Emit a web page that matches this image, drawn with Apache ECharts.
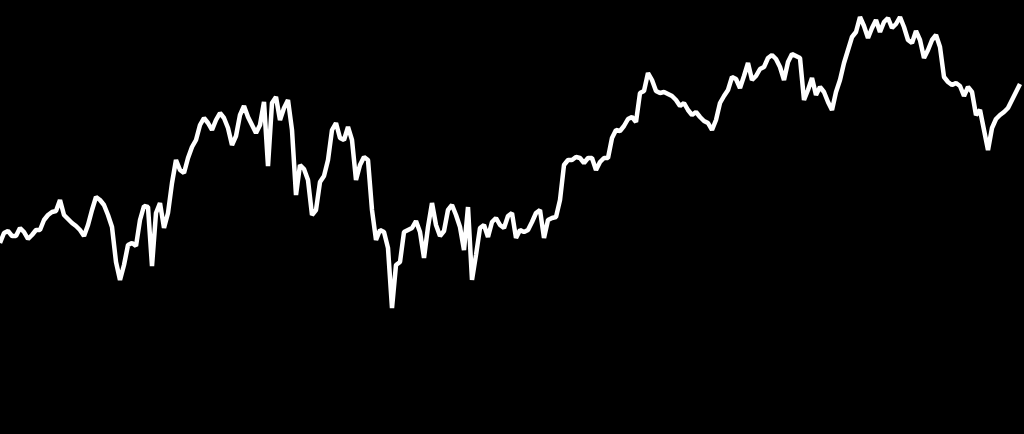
<!DOCTYPE html>
<html>
<head>
<meta charset="utf-8">
<script src="https://cdn.jsdelivr.net/npm/echarts@6/dist/echarts.min.js"></script>
<style>
html,body{margin:0;padding:0;background:#000;}
#chart{width:1024px;height:434px;}
</style>
</head>
<body>
<div id="chart"></div>
<script>
const values = [
191,201,203,198,198,206,202,195,199,204,204,214,219,222,223,234,219,215,211,208,
204,198,209,224,237,234,229,219,207,172,154,169,189,191,188,214,228,227,168,221,
231,206,221,251,274,264,261,276,287,294,309,316,311,304,314,321,316,306,289,298,
319,328,317,309,301,309,332,268,331,337,314,326,334,304,239,269,265,254,219,224,
252,258,274,304,311,296,294,307,294,254,269,277,274,224,194,204,202,186,126,169,
172,202,204,206,213,202,176,207,231,209,198,203,224,229,219,207,184,227,154,179,
206,209,197,212,216,209,206,218,221,196,204,202,204,212,221,224,196,214,216,217,
234,269,274,274,277,276,271,276,276,264,272,276,276,296,304,303,308,315,317,312,
341,343,361,354,343,341,342,340,338,334,328,331,324,319,322,317,313,311,304,314,
331,338,344,357,355,346,358,371,354,358,365,367,376,379,375,367,354,372,380,378,
376,334,344,356,339,347,342,332,324,342,354,371,384,397,402,417,408,396,406,414,
402,412,416,406,410,417,407,394,391,403,394,376,384,394,399,387,357,352,349,351,
348,338,347,342,319,324,304,284,306,315,319,322,326,334,342,350
];
const categories = values.map((_, i) => String(i + 1));

const chart = echarts.init(document.getElementById('chart'));
chart.setOption({
  backgroundColor: '#000',
  animation: false,
  grid: { left: 0, right: 4, top: 0, bottom: 0 },
  xAxis: { type: 'category', data: categories, boundaryGap: false, show: false },
  yAxis: { type: 'value', min: 0, max: 434, show: false },
  series: [{
    type: 'line',
    data: values,
    showSymbol: false,
    symbol: 'none',
    lineStyle: { color: '#fff', width: 4.5 },
    itemStyle: { color: '#fff' }
  }]
});
</script>
</body>
</html>
